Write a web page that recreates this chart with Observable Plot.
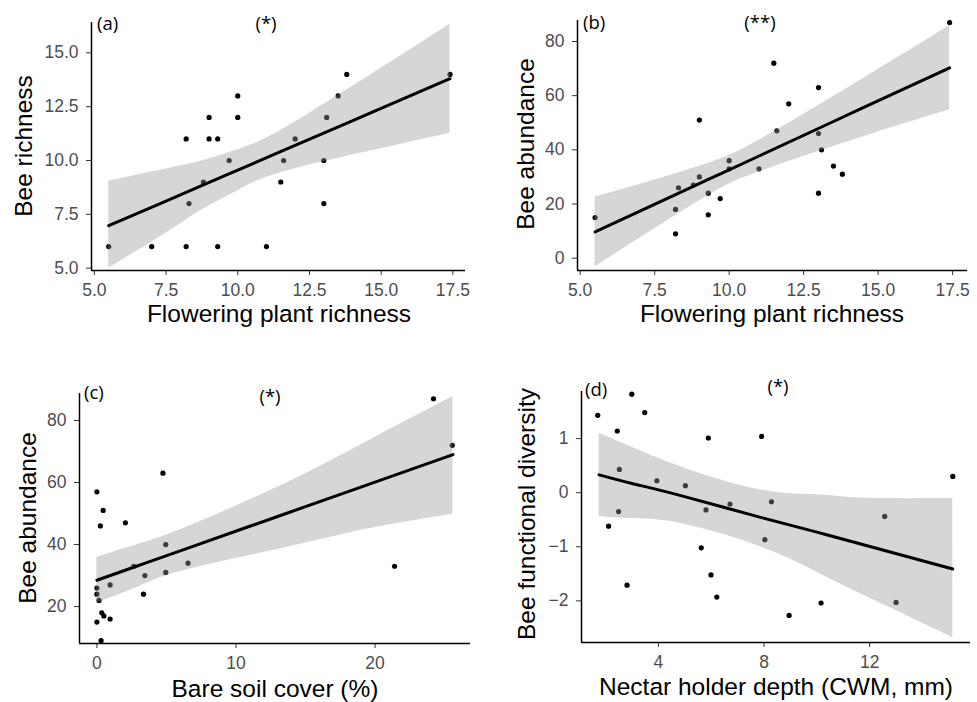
<!DOCTYPE html>
<html><head><meta charset="utf-8">
<script src="https://cdn.jsdelivr.net/npm/d3@7"></script>
<script src="https://cdn.jsdelivr.net/npm/@observablehq/plot@0.6"></script>
<style>
body{margin:0;background:#fff}
#wrap{position:relative;width:977px;height:702px;overflow:hidden;background:#fff}
#wrap svg{position:absolute;overflow:visible}
g[aria-label$="tick label"]{fill:#4d4d4d}
g[aria-label$="-axis tick"]{stroke:#333}
.tag{position:absolute;font-family:"Open Sans",Lato,sans-serif;font-size:18.5px;line-height:20px;color:#000;white-space:nowrap}
.xt{position:absolute;font-family:"Liberation Sans",Arial,sans-serif;font-size:24.5px;line-height:24.5px;color:#000;white-space:nowrap;transform:translateX(-50%)}
.yt{position:absolute;font-family:"Liberation Sans",Arial,sans-serif;font-size:24.5px;line-height:24.5px;color:#000;white-space:nowrap;transform:translate(-50%,-50%) rotate(-90deg)}
</style></head>
<body><div id="wrap"></div>
<script>
// ---------- data ----------
// (a) bee richness vs flowering plant richness
const plantRichA = [5.5,7,8.2,8.2,8.3,8.8,9,9,9.3,9.3,9.7,10,10,11,11.5,11.6,12,13,13,13.1,13.5,13.8,17.4];
const beeRichA   = [6,6,11,6,8,9,12,11,11,6,10,13,12,6,9,10,11,10,8,12,13,14,14];
const fitXA = [5.5, 7.54, 8.7, 10.0, 11.49, 14.39, 17.4];
const fitA  = [6.97, 8.14, 8.81, 9.55, 10.41, 12.07, 13.8];
const loA   = [5.0, 6.65, 7.66, 8.6, 9.43, 10.37, 11.27];
const hiA   = [9.04, 9.62, 9.96, 10.5, 11.39, 13.77, 16.33];

// (b) bee abundance vs flowering plant richness
const plantRichB = [5.5,8.2,8.2,8.3,8.8,9,9,9.3,9.3,9.7,10,10,11,11.5,11.6,12,13,13,13,13.1,13.5,13.8,17.4];
const beeAbundB  = [15,9,18,26,27,30,51,16,24,22,36,33,33,72,47,57,63,46,24,40,34,31,87];
const fitXB = [5.5, 7.82, 9.5, 11.06, 14.41, 17.4];
const fitB  = [9.7, 21.5, 30.1, 38.0, 55.1, 70.3];
const loB   = [-3.2, 13.1, 24.4, 32.1, 44.5, 54.8];
const hiB   = [22.6, 29.9, 35.8, 43.9, 65.7, 85.8];

// (c) bee abundance vs bare soil cover
const bareSoilC = [0,0.45,0.25,2.05,4.75,4.95,2.65,3.45,4.95,6.55,0.95,3.35,0,0,0.15,0.35,0.5,0.95,0,0.3,24.2,25.55,21.4];
const beeAbundC = [57,51,46,47,63,40,33,30,31,34,27,24,26,24,22,18,17,16,15,9,87,72,33];
const fitXC = [0, 3, 6.35, 13.55, 19.54, 25.6];
const fitC  = [28.5, 33.25, 38.55, 49.94, 59.41, 69.0];
const loC   = [21.2, 26.4, 31.7, 39.0, 45.1, 49.8];
const hiC   = [35.9, 40.1, 45.4, 59.7, 73.5, 87.7];

// (d) bee functional diversity vs nectar holder depth
const nectarD = [1.7,2.99,3.48,2.44,5.89,7.91,15.15,2.52,3.94,5.02,5.8,6.71,8.28,2.49,2.11,12.57,8.03,5.62,5.99,2.81,6.21,8.95,10.16,13.0];
const beeFDD  = [1.43,1.82,1.48,1.14,1.01,1.04,0.30,0.43,0.22,0.13,-0.32,-0.21,-0.17,-0.35,-0.62,-0.44,-0.87,-1.02,-1.52,-1.71,-1.93,-2.27,-2.04,-2.03];
const fitXD = [1.75, 3.0, 4.85, 7.87, 10.0, 11.66, 15.15];
const fitD  = [0.33, 0.17, -0.055, -0.456, -0.73, -0.95, -1.41];
const loD   = [-0.44, -0.48, -0.57, -1.0, -1.47, -1.87, -2.68];
const hiD   = [1.10, 0.84, 0.48, 0.05, -0.04, -0.10, -0.11];

// ticks and texts
const xTicksAB = [5, 7.5, 10, 12.5, 15, 17.5];
const yTicksA = [5, 7.5, 10, 12.5, 15];
const yTicksB = [0, 20, 40, 60, 80];
const xTicksC = [0, 10, 20];
const yTicksC = [20, 40, 60, 80];
const xTicksD = [4, 8, 12];
const yTicksD = [-2, -1, 0, 1];
const panelTags = ["(a)", "(b)", "(c)", "(d)"];
const sigTags = ["(*)", "(**)", "(*)", "(*)"];
const xTitles = ["Flowering plant richness", "Flowering plant richness", "Bare soil cover (%)", "Nectar holder depth (CWM, mm)"];
const yTitles = ["Bee richness", "Bee abundance", "Bee abundance", "Bee functional diversity"];

// ---------- layout ----------
const panels = [
  {left:0, top:0, width:488, height:350, mt:22, mr:23, mb:80, ml:91,
   xd:[4.9,17.94], yd:[4.89,16.41], xt:xTicksAB, yt:yTicksA, xf:".1f", yf:".1f",
   px:plantRichA, py:beeRichA, fx:fitXA, fy:fitA, lo:loA, hi:hiA,
   tag:[97,12.5], sig:[266,12.5], xTitle:[279,302], yTitle:[24,146]},
  {left:488, top:0, width:489, height:350, mt:20, mr:10, mb:80, ml:89,
   xd:[4.91,18.0], yd:[-4.55,87.75], xt:xTicksAB, yt:yTicksB, xf:".1f", yf:"d",
   px:plantRichB, py:beeAbundB, fx:fitXB, fy:fitB, lo:loB, hi:hiB,
   tag:[583,11.5], sig:[760,11.5], xTitle:[772,302], yTitle:[526,144]},
  {left:0, top:350, width:488, height:352, mt:43, mr:18, mb:59, ml:79,
   xd:[-1.25,26.86], yd:[8.1,88.7], xt:xTicksC, yt:yTicksC, xf:"d", yf:"d",
   px:bareSoilC, py:beeAbundC, fx:fitXC, fy:fitC, lo:loC, hi:hiC,
   tag:[84,381.5], sig:[270,385.5], xTitle:[275,677], yTitle:[28,518]},
  {left:488, top:350, width:489, height:352, mt:41, mr:7, mb:60, ml:93,
   xd:[1.085,15.82], yd:[-2.77,1.87], xt:xTicksD, yt:yTicksD, xf:"d", yf:"d",
   px:nectarD, py:beeFDD, fx:fitXD, fy:fitD, lo:loD, hi:hiD,
   tag:[585,379], sig:[778,375.5], xTitle:[776,675], yTitle:[527,514]}
];

const wrap = document.getElementById("wrap");
panels.forEach((p, i) => {
  const pts = p.px.map((x, j) => ({x, y: p.py[j]}));
  const band = p.fx.map((x, j) => ({x, fit: p.fy[j], lo: p.lo[j], hi: p.hi[j]}));
  const svg = Plot.plot({
    width: p.width, height: p.height,
    marginTop: p.mt, marginRight: p.mr, marginBottom: p.mb, marginLeft: p.ml,
    style: {fontFamily: "'Liberation Sans', Arial, sans-serif", fontSize: "17.5px", color: "#000", background: "transparent", overflow: "visible"},
    x: {domain: p.xd},
    y: {domain: p.yd},
    marks: [
      Plot.axisX(p.xt, {tickSize: 5, tickPadding: 8, tickFormat: d3.format(p.xf), label: null}),
      Plot.axisY(p.yt, {tickSize: 5, tickPadding: 8, tickFormat: d3.format(p.yf), label: null}),
      Plot.dot(pts, {x: "x", y: "y", r: 2.6, fill: "#000", stroke: "none"}),
      Plot.areaY(band, {x: "x", y1: "lo", y2: "hi", fill: "#999999", fillOpacity: 0.4, curve: "natural"}),
      Plot.line(band, {x: "x", y: "fit", stroke: "#000", strokeWidth: 3, curve: "natural"}),
      Plot.ruleX([p.xd[0]], {stroke: "#000", strokeWidth: 1.5}),
      Plot.ruleY([p.yd[0]], {stroke: "#000", strokeWidth: 1.5})
    ]
  });
  svg.style.left = p.left + "px";
  svg.style.top = p.top + "px";
  wrap.appendChild(svg);

  const tag = document.createElement("div");
  tag.className = "tag"; tag.textContent = panelTags[i];
  tag.style.left = p.tag[0] + "px"; tag.style.top = p.tag[1] + "px";
  wrap.appendChild(tag);

  const sig = document.createElement("div");
  sig.className = "tag"; sig.textContent = sigTags[i];
  sig.style.left = p.sig[0] + "px"; sig.style.top = p.sig[1] + "px";
  sig.style.transform = "translateX(-50%)";
  wrap.appendChild(sig);

  const xt = document.createElement("div");
  xt.className = "xt"; xt.textContent = xTitles[i];
  xt.style.left = p.xTitle[0] + "px"; xt.style.top = p.xTitle[1] + "px";
  wrap.appendChild(xt);

  const yt = document.createElement("div");
  yt.className = "yt"; yt.textContent = yTitles[i];
  yt.style.left = p.yTitle[0] + "px"; yt.style.top = p.yTitle[1] + "px";
  wrap.appendChild(yt);
});
</script>
</body></html>
